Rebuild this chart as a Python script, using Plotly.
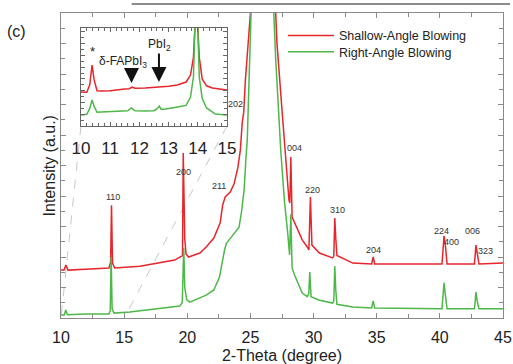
import plotly.graph_objects as go

# ---------------- data ----------------
red_main_x = [10.0, 10.24, 10.39, 10.55, 12.3, 13.8, 13.93, 14.0, 14.08, 14.25, 16.25, 17.8, 19.0, 19.55, 19.62,
              19.68, 19.74, 19.8, 19.9, 20.1, 21.0, 21.5, 22.1, 22.6, 22.8, 23.0, 23.4, 23.7, 24.0, 24.1, 24.2,
              24.35, 24.42, 24.47, 24.6, 24.8, 25.0, 25.6, 26.4, 27.0, 27.1, 27.5, 27.9, 28.05, 28.12, 28.2,
              28.3, 28.64, 29.1, 29.5, 29.63, 29.75, 29.87, 30.46, 31.5, 31.6, 31.68, 31.76, 31.85, 33.1, 34.4,
              34.6, 34.72, 34.84, 40.17, 40.33, 40.45, 40.57, 42.74, 42.86, 42.98, 43.1, 45.0]
red_main_y = [15.7, 15.7, 17.4, 15.7, 16.1, 16.4, 18.4, 37.0, 18.0, 16.4, 17.0, 18.0, 19.0, 20.3, 20.5,
              54.1, 30.0, 26.0, 21.0, 20.0, 21.3, 23.3, 26.2, 31.1, 37.0, 39.7, 41.3, 43.9, 49.2, 51.8, 55.0,
              64.0, 66.5, 67.5, 78.0, 90.0, 100.0, 300.0, 300.0, 100.0, 90.2, 68.2, 46.2, 38.7, 37.7, 52.8,
              33.1, 30.0, 25.6, 23.3, 22.3, 39.7, 23.9, 21.3, 19.7, 20.3, 32.8, 26.0, 20.5, 18.0, 17.7,
              17.7, 20.0, 17.7, 17.7, 26.9, 23.3, 17.7, 17.7, 23.9, 20.7, 17.7, 18.0]

green_main_x = [10.0, 10.25, 10.38, 10.5, 12.0, 13.8, 13.9, 13.97, 14.05, 14.2, 15.45, 17.8, 19.4, 19.6, 19.72,
                19.8, 19.87, 19.95, 20.2, 21.5, 22.1, 22.55, 22.95, 23.1, 23.5, 24.1, 24.3, 24.5, 24.65, 24.75,
                25.05, 25.7, 26.3, 26.85, 27.0, 27.4, 27.7, 27.95, 28.1, 28.2, 28.3, 28.5, 29.1, 29.5, 29.62,
                29.7, 29.8, 30.4, 31.5, 31.6, 31.68, 31.76, 31.85, 33.1, 34.6, 34.72, 34.84, 40.17, 40.33, 40.45,
                40.57, 42.74, 42.86, 42.98, 43.1, 45.0]
green_main_y = [1.0, 1.0, 2.6, 1.1, 1.3, 1.3, 2.5, 20.0, 3.0, 1.6, 2.0, 3.0, 3.9, 5.0, 23.0,
                10.0, 8.0, 6.0, 5.2, 7.5, 9.2, 13.4, 22.3, 24.5, 26.6, 29.8, 35.0, 42.0, 52.8, 58.4,
                100.0, 300.0, 300.0, 100.0, 85.0, 55.0, 38.0, 28.0, 20.7, 34.0, 16.4, 14.0, 8.2, 7.0, 8.0,
                15.1, 7.0, 5.9, 4.9, 5.5, 17.0, 9.0, 4.5, 3.6, 3.3, 5.6, 3.3, 3.0, 11.5, 7.0,
                3.0, 3.0, 8.5, 5.0, 3.0, 3.0]

red_inset_x = [10.0, 10.2, 10.3, 10.38, 10.45, 10.55, 10.7, 11.0, 11.5, 11.65, 11.75, 11.85, 12.2, 12.7, 13.0,
               13.3, 13.6, 13.75, 13.85, 13.9, 13.95, 14.0, 14.05, 14.15, 14.3, 14.5, 15.0]
red_inset_y = [34.7, 34.5, 42.0, 62.2, 47.0, 36.0, 35.7, 36.0, 37.8, 38.0, 39.8, 38.5, 38.8, 39.8, 40.5,
               41.8, 44.9, 52.0, 70.0, 100.0, 150.0, 100.0, 70.0, 48.0, 41.0, 38.8, 36.7]

green_inset_x = [10.0, 10.2, 10.3, 10.38, 10.45, 10.55, 10.7, 11.3, 11.6, 11.73, 11.85, 12.2, 12.5, 12.6, 12.68,
                 12.75, 12.9, 13.3, 13.6, 13.75, 13.85, 13.9, 13.95, 14.0, 14.05, 14.15, 14.3, 14.6, 15.0]
green_inset_y = [11.2, 12.0, 18.0, 26.5, 20.0, 14.0, 14.3, 15.3, 15.5, 18.4, 15.5, 15.3, 15.6, 17.5, 20.4,
                 17.0, 17.3, 19.4, 21.0, 29.6, 50.0, 100.0, 150.0, 100.0, 50.0, 28.0, 18.4, 12.2, 11.2]

series_names = ["Shallow-Angle Blowing", "Right-Angle Blowing"]

peak_labels = ["110", "200", "211", "202", "004", "220", "310", "204", "224", "400", "006", "323"]
peak_label_x = [14.1, 19.72, 22.48, 23.78, 28.45, 29.93, 31.9, 34.75, 40.12, 40.94, 42.62, 43.63]
peak_label_y = [39.7, 47.9, 43.3, 70.2, 55.7, 42.0, 35.4, 22.3, 28.4, 24.8, 28.5, 22.0]

main_xticks = [10, 15, 20, 25, 30, 35, 40, 45]
inset_xticks = [10, 11, 12, 13, 14, 15]

RED = "#e5262b"
GREEN = "#4db848"
AX = "#8a8a8a"

fig = go.Figure()
fig.add_trace(go.Scatter(x=red_main_x, y=red_main_y, mode="lines", name=series_names[0],
                         line=dict(color=RED, width=1.5), legend="legend"))
fig.add_trace(go.Scatter(x=green_main_x, y=green_main_y, mode="lines", name=series_names[1],
                         line=dict(color=GREEN, width=1.5), legend="legend2"))
fig.add_trace(go.Scatter(x=red_inset_x, y=red_inset_y, mode="lines", showlegend=False,
                         line=dict(color=RED, width=1.5), xaxis="x2", yaxis="y2"))
fig.add_trace(go.Scatter(x=green_inset_x, y=green_inset_y, mode="lines", showlegend=False,
                         line=dict(color=GREEN, width=1.5), xaxis="x2", yaxis="y2"))

W, H = 513, 364
ml, mr, mt, mb = 61, 10, 13, 46
XR = [10, 45]
YR = [0, 100]
ins_dom_x = [0.0452, 0.3756]
ins_dom_y = [0.6295, 0.9508]

leg_common = dict(xanchor="left", yanchor="middle", bgcolor="rgba(0,0,0,0)",
                  font=dict(size=12.5, color="#222"), itemwidth=46, borderwidth=0)

fig.update_layout(
    width=W, height=H,
    margin=dict(l=ml, r=mr, t=mt, b=mb, autoexpand=False),
    paper_bgcolor="white", plot_bgcolor="white",
    font=dict(family="Liberation Sans, Arial, sans-serif", color="#222"),
    showlegend=True,
    legend=dict(x=0.502, y=0.9246, **leg_common),
    legend2=dict(x=0.502, y=0.872, **leg_common),
    xaxis=dict(range=XR, showgrid=False, zeroline=False, showline=True, linecolor=AX, linewidth=1,
               mirror="ticks", ticks="inside", ticklen=5, tickcolor=AX, tickvals=main_xticks,
               tickfont=dict(size=16, color="#222"), ticklabelstandoff=5, automargin=False,
               minor=dict(dtick=2.5, ticks="inside", ticklen=4, tickcolor=AX),
               title=dict(text="2-Theta (degree)", font=dict(size=16, color="#222"), standoff=5)),
    yaxis=dict(range=YR, showgrid=False, zeroline=False, showline=True, linecolor=AX, linewidth=1,
               mirror="ticks", ticks="inside", ticklen=5, tickcolor=AX, dtick=10, showticklabels=False,
               automargin=False,
               minor=dict(dtick=5, ticks="inside", ticklen=4, tickcolor=AX)),
    xaxis2=dict(domain=ins_dom_x, anchor="y2", range=[10, 15], showgrid=False, zeroline=False,
                showline=True, linecolor="#666", linewidth=1, mirror="ticks", ticks="inside", ticklen=4,
                tickcolor="#666", tickvals=inset_xticks, tickfont=dict(size=17, color="#222"),
                ticklabelstandoff=7, automargin=False,
                minor=dict(dtick=0.2, ticks="inside", ticklen=3, tickcolor="#666")),
    yaxis2=dict(domain=ins_dom_y, anchor="x2", range=[0, 100], showgrid=False, zeroline=False,
                showline=True, linecolor="#666", linewidth=1, mirror="ticks", ticks="inside", ticklen=4,
                tickcolor="#666", dtick=12, showticklabels=False, automargin=False,
                minor=dict(dtick=6, ticks="inside", ticklen=3, tickcolor="#666")),
)

# y-axis title
fig.add_annotation(x=-0.025, y=0.5, xref="paper", yref="paper", text="Intensity (a.u.)", textangle=-90,
                   showarrow=False, font=dict(size=16, color="#222"), xanchor="center", yanchor="middle")

# dashed zoom lines from inset corners to main axis x=10 and x=15
def xpaper(v):
    return (v - XR[0]) / (XR[1] - XR[0])

fig.add_shape(type="line", xref="paper", yref="paper", x0=ins_dom_x[0], y0=ins_dom_y[0],
              x1=xpaper(10), y1=0, line=dict(color="#c8c8c8", width=1, dash="dash"), layer="below")
fig.add_shape(type="line", xref="paper", yref="paper", x0=ins_dom_x[1], y0=ins_dom_y[0],
              x1=xpaper(15), y1=0, line=dict(color="#c8c8c8", width=1, dash="dash"), layer="below")

# cropped page line at the very top
fig.add_shape(type="line", xref="paper", yref="paper", x0=0.16, x1=1.016, y0=1.0295, y1=1.0295,
              line=dict(color="#8c8c8c", width=2))

# peak labels
for t, x, y in zip(peak_labels, peak_label_x, peak_label_y):
    fig.add_annotation(x=x, y=y, text=t, showarrow=False, font=dict(size=9, color="#333"),
                       xanchor="center", yanchor="middle")

# inset annotations
fig.add_annotation(x=10.38, y=76, xref="x2", yref="y2", text="*", showarrow=False,
                   font=dict(size=13, color="#222"), yanchor="middle")
fig.add_annotation(x=11.44, y=65.3, xref="x2", yref="y2", text="δ-FAPbI<sub>3</sub>", showarrow=False,
                   font=dict(size=12, color="#222"), yanchor="middle")
fig.add_annotation(x=12.7, y=82.7, xref="x2", yref="y2", text="PbI<sub>2</sub>", showarrow=False,
                   font=dict(size=12, color="#222"), yanchor="middle")
fig.add_annotation(x=11.73, y=43.9, ax=11.73, ay=60.2, xref="x2", yref="y2", axref="x2", ayref="y2",
                   text="", showarrow=True, arrowhead=2, arrowsize=1.5, arrowwidth=2, arrowcolor="#111")
fig.add_annotation(x=12.67, y=44.9, ax=12.67, ay=75.5, xref="x2", yref="y2", axref="x2", ayref="y2",
                   text="", showarrow=True, arrowhead=2, arrowsize=1.5, arrowwidth=2, arrowcolor="#111")

# panel letter
fig.add_annotation(x=-0.1, y=0.94, xref="paper", yref="paper", text="(c)", showarrow=False,
                   font=dict(size=16, color="#222"), xanchor="center", yanchor="middle")

fig.write_html("out.html", config={"displayModeBar": False},
               post_script="document.body.style.margin='0';document.body.style.padding='0';"
                           "document.documentElement.style.overflow='hidden';")
